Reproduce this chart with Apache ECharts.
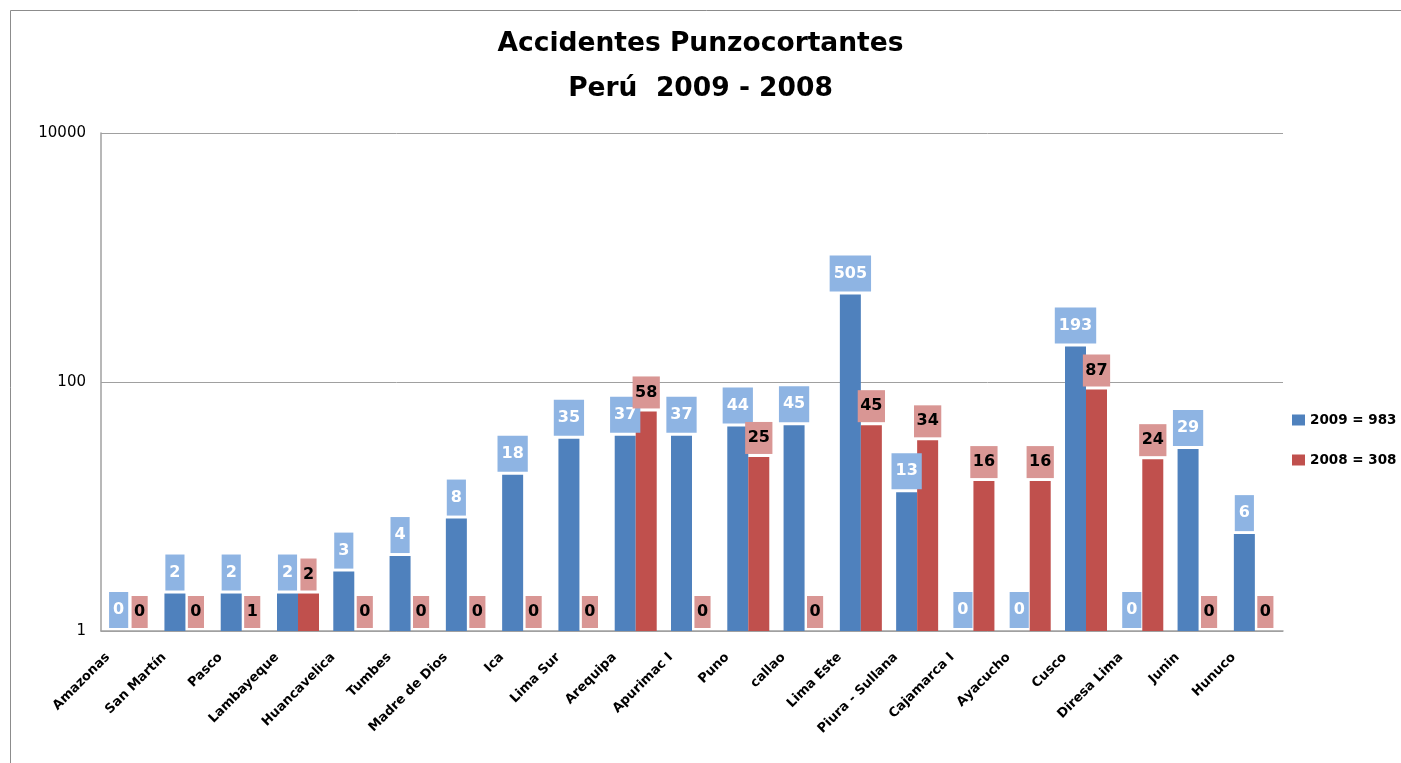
<!DOCTYPE html>
<html>
<head>
<meta charset="utf-8">
<script src="https://cdn.jsdelivr.net/npm/echarts@6/dist/echarts.min.js"></script>
<style>
  html, body { margin: 0; padding: 0; background: #fff; }
  #chart { width: 1401px; height: 763px; }
</style>
</head>
<body>
<div id="chart"></div>
<script>
const regiones = ['Amazonas', 'San Martín', 'Pasco', 'Lambayeque', 'Huancavelica', 'Tumbes', 'Madre de Dios', 'Ica', 'Lima Sur', 'Arequipa', 'Apurimac I', 'Puno', 'callao', 'Lima Este', 'Piura - Sullana', 'Cajamarca I', 'Ayacucho', 'Cusco', 'Diresa Lima', 'Junin', 'Hunuco']
const casos2009 = [0, 2, 2, 2, 3, 4, 8, 18, 35, 37, 37, 44, 45, 505, 13, 0, 0, 193, 0, 29, 6]
const casos2008 = [0, 0, 1, 2, 0, 0, 0, 0, 0, 58, 0, 25, 0, 45, 34, 16, 16, 87, 24, 0, 0]
const yTicks = [1, 100, 10000]

const font = 'DejaVu Sans'

// log axis: 0 can't be drawn, so it sits on the baseline (1) and the label keeps the real value
function toLog (arr) {
  return arr.map(v => Math.max(v, 1))
}

const chart = echarts.init(document.getElementById('chart'))
const option = {
  animation: false,
  backgroundColor: '#fff',
  graphic: [{
    type: 'rect',
    shape: { x: 10.5, y: 10.5, width: 1600, height: 1000 },
    style: { fill: 'none', stroke: '#8c8c8c', lineWidth: 1 },
    silent: true
  }],
  title: {
    text: 'Accidentes Punzocortantes\nPerú  2009 - 2008',
    left: 'center',
    top: 17,
    textStyle: {
      fontFamily: font,
      fontWeight: 'bold',
      fontSize: 26.5,
      lineHeight: 45,
      color: '#000'
    }
  },
  legend: {
    orient: 'vertical',
    left: 1287,
    top: 408,
    itemWidth: 13,
    itemHeight: 11,
    itemGap: 26,
    icon: 'rect',
    textStyle: {
      fontFamily: font,
      fontWeight: 'bold',
      fontSize: 13.5,
      lineHeight: 13,
      color: '#000'
    }
  },
  grid: {
    left: 101,
    top: 133,
    right: 118,
    bottom: 132,
    containLabel: false
  },
  xAxis: {
    type: 'category',
    data: regiones,
    axisTick: { show: false },
    axisLine: { lineStyle: { color: '#a0a0a0', width: 1.5 } },
    axisLabel: {
      interval: 0,
      rotate: 45,
      margin: 3,
      padding: [0, 30, 0, 0],
      fontFamily: font,
      fontWeight: 'bold',
      fontSize: 13,
      color: '#000'
    }
  },
  yAxis: {
    type: 'log',
    logBase: 100,
    min: yTicks[0],
    max: yTicks[yTicks.length - 1],
    axisLine: { show: true, lineStyle: { color: '#a0a0a0', width: 1.5 } },
    axisTick: { show: false },
    splitLine: { lineStyle: { color: '#a0a0a0', width: 1 } },
    axisLabel: {
      margin: 15,
      fontFamily: font,
      fontSize: 15,
      color: '#000',
      formatter: v => String(Math.round(v))
    }
  },
  series: [
    {
      name: '2009 = 983',
      type: 'bar',
      data: toLog(casos2009),
      barWidth: 21,
      barGap: '0%',
      itemStyle: { color: '#4f81bd', borderWidth: 0 },
      label: {
        show: true,
        position: 'top',
        distance: 3,
        formatter: p => String(casos2009[p.dataIndex]),
        backgroundColor: '#8eb4e3',
        borderWidth: 0,
        textBorderWidth: 0,
        color: '#fff',
        fontFamily: font,
        fontWeight: 'bold',
        fontSize: 16,
        lineHeight: 16,
        padding: [10, 4]
      }
    },
    {
      name: '2008 = 308',
      type: 'bar',
      data: toLog(casos2008),
      barWidth: 21,
      itemStyle: { color: '#c0504d', borderWidth: 0 },
      label: {
        show: true,
        position: 'top',
        distance: 3,
        formatter: p => String(casos2008[p.dataIndex]),
        backgroundColor: '#d99694',
        borderWidth: 0,
        textBorderWidth: 0,
        color: '#000',
        fontFamily: font,
        fontWeight: 'bold',
        fontSize: 16,
        lineHeight: 16,
        padding: [8, 2.5]
      }
    }
  ]
}
chart.setOption(option)
window.addEventListener('resize', function () {
  chart.resize()
})
</script>
</body>
</html>
